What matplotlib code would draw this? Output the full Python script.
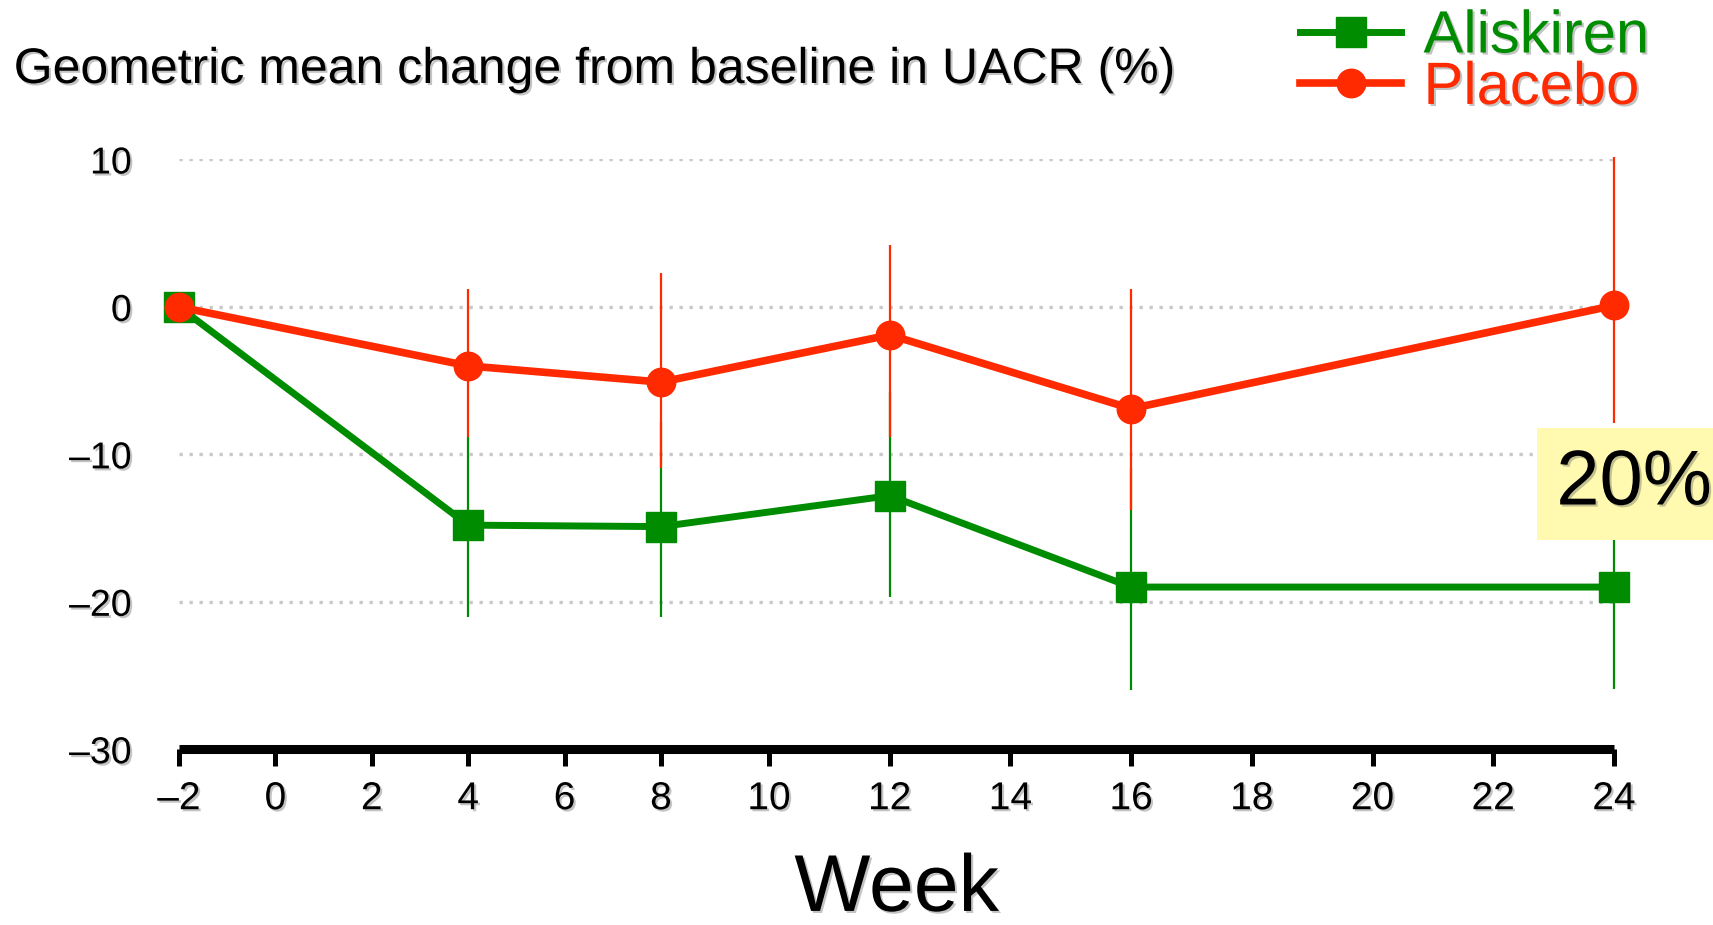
import matplotlib
matplotlib.use("Agg")
import matplotlib.pyplot as plt
import matplotlib.patheffects as pe
import numpy as np

plt.rcParams['font.family'] = ['Liberation Sans', 'DejaVu Sans']

# data
weeks = [-2, 4, 8, 12, 16, 24]
aliskiren = [0, -14.8, -14.9, -12.8, -19.0, -19.0]
aliskiren_lo = [0, -21.0, -21.0, -19.7, -26.0, -25.9]
aliskiren_hi = [0, -8.8, -7.8, -5.8, -10.9, -12.0]
placebo = [0, -4.0, -5.1, -1.9, -6.9, 0.1]
placebo_lo = [0, -8.8, -10.9, -8.8, -13.8, -7.9]
placebo_hi = [0, 1.2, 2.3, 4.2, 1.2, 10.2]

xticks = [-2, 0, 2, 4, 6, 8, 10, 12, 14, 16, 18, 20, 22, 24]
xticklabels = ['–2', '0', '2', '4', '6', '8', '10', '12', '14', '16', '18', '20', '22', '24']
yticks = [-30, -20, -10, 0, 10]
yticklabels = ['–30', '–20', '–10', '0', '10']

green = '#008c00'
red = '#ff2a00'

# the original x axis is stretched after week 8
knots = np.array([-2.0, 8.0, 10.0, 24.0])
knot_pos = np.array([0.0, 482.0, 590.0, 1435.0])


def fwd(x):
    x = np.asarray(x, dtype=float)
    y = np.interp(x, knots, knot_pos)
    y = y + np.where(x < knots[0], (x - knots[0]) * 48.2, 0)
    y = y + np.where(x > knots[-1], (x - knots[-1]) * 60.4, 0)
    return y


def inv(y):
    y = np.asarray(y, dtype=float)
    x = np.interp(y, knot_pos, knots)
    x = x + np.where(y < knot_pos[0], (y - knot_pos[0]) / 48.2, 0)
    x = x + np.where(y > knot_pos[-1], (y - knot_pos[-1]) / 60.4, 0)
    return x


shadow = [pe.withSimplePatchShadow(offset=(1.5, -1.5), shadow_rgbFace='#555555', alpha=0.35)]

fig = plt.figure(figsize=(17.13, 9.25), dpi=100)
ax = fig.add_axes([0.1045, 0.19, 0.9422 - 0.1045, 0.8276 - 0.19])
ax.set_xscale('function', functions=(fwd, inv))

a = np.array(aliskiren)
p = np.array(placebo)
a_err = [a - np.array(aliskiren_lo), np.array(aliskiren_hi) - a]
p_err = [p - np.array(placebo_lo), np.array(placebo_hi) - p]

ax.errorbar(weeks, aliskiren, yerr=a_err, fmt='none', ecolor=green, elinewidth=1.6,
            capsize=0, clip_on=False, zorder=3)
ax.errorbar(weeks, placebo, yerr=p_err, fmt='none', ecolor=red, elinewidth=1.6,
            capsize=0, clip_on=False, zorder=3)
ax.plot(weeks, aliskiren, color=green, lw=5, marker='s', markersize=22,
        clip_on=False, zorder=4, label='Aliskiren')
ax.plot(weeks, placebo, color=red, lw=5.5, marker='o', markersize=20.5,
        clip_on=False, zorder=5, label='Placebo')

ax.set_xlim(-2, 24)
ax.set_ylim(-30, 10)
ax.set_yticks(yticks)
ax.set_yticklabels(yticklabels, fontsize=27)
ax.set_xticks(xticks)
ax.set_xticklabels(xticklabels, fontsize=28)
ax.tick_params(axis='y', length=0, pad=34)
ax.tick_params(axis='x', length=12, width=3.6, pad=11, direction='out')
for lab in ax.get_xticklabels() + ax.get_yticklabels():
    lab.set_path_effects(shadow)

for s in ['left', 'right', 'top']:
    ax.spines[s].set_visible(False)
ax.spines['bottom'].set_linewidth(6.5)
ax.spines['bottom'].set_capstyle('butt')

ax.grid(axis='y', color='#c8c8c8', linestyle=(0, (1, 2)), linewidth=2.4)
ax.grid(axis='x', visible=False)
ax.set_axisbelow(True)

ax.set_xlabel('Week', fontsize=58, labelpad=25, path_effects=shadow)

fig.text(0.008, 1 - 70 / 925, 'Geometric mean change from baseline in UACR (%)',
         fontsize=36, ha='left', va='center', path_effects=shadow)

leg = fig.legend(loc='upper left', bbox_to_anchor=(1270 / 1713, 1.022), frameon=False,
                 fontsize=43, handlelength=1.7, handletextpad=0.37, labelspacing=-0.06,
                 borderpad=0.0, labelcolor='linecolor', markerscale=1.0)
for t in leg.get_texts():
    t.set_path_effects(shadow)

fig.text(1634 / 1713, 1 - 484 / 925, '20%', fontsize=56, ha='center', va='center',
         path_effects=shadow,
         bbox=dict(boxstyle='square,pad=0.245', facecolor='#fffab0', edgecolor='none'))

fig.savefig('out.png', dpi=100)
